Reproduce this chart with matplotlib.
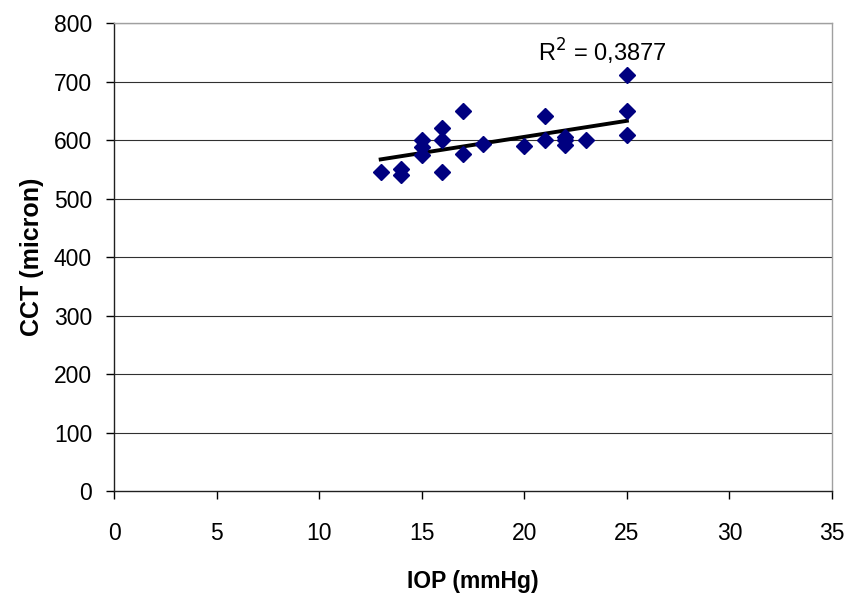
import numpy as np
import matplotlib
matplotlib.use('Agg')
import matplotlib.pyplot as plt

plt.rcParams['font.family'] = ['Liberation Sans', 'DejaVu Sans']

# IOP (mmHg) vs CCT (micron)
iop = [13, 14, 14, 15, 15, 15, 16, 16, 16, 17, 17, 18, 20, 21, 21, 22, 22, 22, 23, 25, 25, 25]
cct = [546, 550, 541, 601, 588, 575, 621, 601, 546, 649, 576, 593, 590, 642, 600, 606, 600, 592, 601, 712, 650, 609]

# trendline end points
trend_x = [13, 25]
trend_y = [567, 633]
r2_label = 'R$^2$ = 0,3877'

fig = plt.figure(figsize=(8.47, 5.93), dpi=100)
ax = fig.add_axes([0.1346, 0.172, 0.8477, 0.789])

# gridlines
for v in range(100, 801, 100):
    ax.axhline(v, color='#303030', lw=0.8, zorder=1)

ax.plot(trend_x, trend_y, color='black', lw=2.8, zorder=2)

ax.plot(iop, cct, linestyle='none', marker='D', ms=8.5, color='#000080',
        markeredgecolor='#000080', zorder=3)

ax.text(20.65, 750, r2_label, fontsize=17, va='center', ha='left')

ax.set_xlim(0, 35)
ax.set_ylim(0, 800)
ax.set_xticks(range(0, 36, 5))
ax.set_yticks(range(0, 801, 100))
ax.tick_params(axis='both', labelsize=16.5, length=6, width=1, color='black')
ax.tick_params(axis='x', pad=16)
ax.tick_params(axis='y', pad=9.8)

for s in ['left', 'bottom']:
    ax.spines[s].set_color('#202020')
    ax.spines[s].set_linewidth(1.0)
for s in ['top', 'right']:
    ax.spines[s].set_color('#a0a0a0')
    ax.spines[s].set_linewidth(1.0)

ax.set_xlabel('IOP (mmHg)', fontsize=16.5, fontweight='bold', labelpad=18)
ax.set_ylabel('CCT (micron)', fontsize=18, fontweight='bold', labelpad=7)

fig.savefig('out.png', dpi=100)
